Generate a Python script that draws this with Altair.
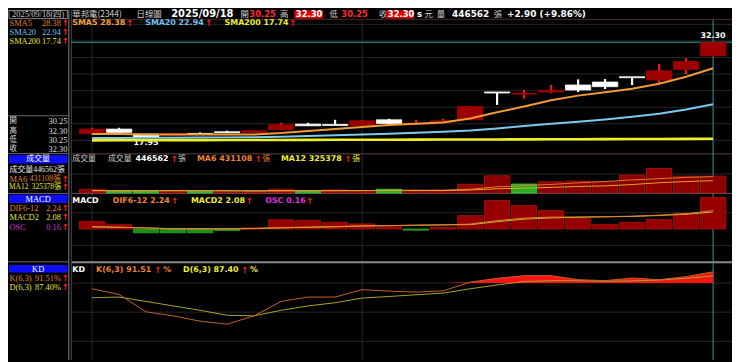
import altair as alt
import pandas as pd

# ---------------- values ----------------
IDX = list(range(24))
OPEN = [18.50, 19.20, 18.45, 18.30, 18.55, 18.80, 18.70, 19.10, 19.95, 19.90, 19.75, 20.60,
        19.95, 20.30, 20.60, 24.80, 24.45, 24.80, 25.85, 26.30, 27.10, 26.60, 28.20, 30.25]
HIGH = [19.40, 19.40, 18.50, 18.60, 18.70, 18.95, 19.00, 20.15, 20.15, 20.60, 20.55, 20.75,
        20.60, 20.75, 22.65, 24.80, 25.10, 25.85, 26.70, 26.75, 27.10, 29.00, 29.90, 32.30]
LOW = [18.35, 18.70, 17.95, 18.25, 18.40, 18.65, 18.65, 19.05, 19.65, 19.75, 19.70, 20.00,
       19.90, 20.25, 20.55, 22.85, 23.80, 24.60, 24.80, 25.25, 25.85, 26.10, 27.45, 30.25]
CLOSE = [19.20, 18.70, 18.00, 18.55, 18.40, 18.65, 18.95, 19.85, 19.70, 19.75, 20.45, 20.05,
         20.10, 20.45, 22.60, 24.65, 24.60, 25.05, 25.10, 25.60, 26.95, 28.00, 29.40, 32.30]
SMA5 = [18.45, 18.45, 18.40, 18.40, 18.40, 18.40, 18.40, 18.60, 18.90, 19.20, 19.50, 19.80,
        20.00, 20.20, 20.80, 21.75, 22.60, 23.55, 24.25, 24.75, 25.30, 26.05, 27.10, 28.38]
SMA20 = [17.85, 17.87, 17.88, 17.90, 17.92, 17.95, 17.98, 18.05, 18.15, 18.27, 18.38, 18.50,
         18.65, 18.80, 18.98, 19.30, 19.65, 20.00, 20.30, 20.65, 21.05, 21.50, 22.15, 22.94]
SMA200 = [17.50, 17.51, 17.52, 17.53, 17.53, 17.54, 17.55, 17.56, 17.57, 17.58, 17.59, 17.60,
          17.61, 17.62, 17.63, 17.64, 17.65, 17.66, 17.67, 17.68, 17.70, 17.71, 17.72, 17.74]
VOLUME = [97000, 53000, 53000, 60000, 45000, 34000, 34000, 97000, 53000, 79000, 60000, 97000,
          60000, 71000, 228000, 455000, 236000, 297000, 315000, 297000, 473000, 649000, 446000, 446562]
VOL_DIR = ["up", "down", "down", "up", "down", "up", "up", "up", "down", "up", "up", "down",
           "up", "up", "up", "up", "down", "up", "up", "up", "up", "up", "up", "up"]
VOL_MA6 = [58000, 56000, 55000, 57000, 60000, 57000, 47000, 54000, 54000, 57000, 60000, 70000,
           74000, 70000, 99000, 162000, 191000, 225000, 267000, 305000, 345000, 378000, 413000, 431108]
VOL_MA12 = [62000, 61000, 60000, 60000, 59000, 59000, 58000, 58000, 59000, 60000, 62000, 64000,
            60000, 62000, 77000, 109000, 125000, 147000, 171000, 187000, 222000, 270000, 302000, 325378]
DIF = [0.30, 0.22, 0.12, 0.02, 0.02, 0.02, 0.06, 0.18, 0.24, 0.30, 0.39, 0.42,
       0.46, 0.51, 0.60, 1.03, 1.33, 1.45, 1.48, 1.51, 1.57, 1.70, 1.88, 2.24]
MACD = [0.26, 0.20, 0.14, 0.04, 0.04, 0.03, 0.05, 0.13, 0.20, 0.27, 0.36, 0.41,
        0.47, 0.50, 0.53, 0.89, 1.21, 1.36, 1.43, 1.49, 1.54, 1.65, 1.80, 2.08]
OSC = [0.039, 0.022, -0.019, -0.019, -0.019, -0.008, 0.006, 0.047, 0.044, 0.034, 0.026, 0.011,
       -0.006, 0.009, 0.068, 0.144, 0.119, 0.093, 0.053, 0.023, 0.034, 0.048, 0.078, 0.16]
K = [74.0, 68.2, 50.3, 46.2, 40.7, 37.6, 46.2, 61.0, 65.5, 65.5, 73.2, 71.6,
     70.6, 71.9, 80.8, 84.8, 87.5, 87.5, 83.4, 82.4, 85.1, 83.4, 86.5, 91.51]
D = [64.8, 65.5, 61.0, 56.4, 51.9, 46.8, 46.2, 51.9, 56.4, 59.7, 64.5, 66.1,
     67.9, 69.6, 74.0, 78.0, 81.4, 82.4, 82.4, 81.8, 82.1, 83.1, 84.8, 87.40]

PRICE_GRID = [17.5, 20, 22.5, 25, 27.5, 30, 32.5, 35]
VOL_GRID = [500000]
MACD_GRID = [-2, 2]
KD_GRID = [20, 50, 80]
MONTH_LINES = [0, 10]
LAST_CLOSE = [32.30]
LAST_IDX = [23]

df = pd.DataFrame({
    "idx": IDX, "open": OPEN, "high": HIGH, "low": LOW, "close": CLOSE,
    "sma5": SMA5, "sma20": SMA20, "sma200": SMA200,
    "volume": VOLUME, "vdir": VOL_DIR, "vma6": VOL_MA6, "vma12": VOL_MA12,
    "dif": DIF, "macd": MACD, "osc": OSC, "k": K, "d": D,
})

# ---------------- scales (pixel ranges inside one 732x354 view) ----------------
OFF = 8  # page margin
XS = alt.Scale(domain=[-0.77, 23.70], range=[64, 732], nice=False, zero=False)
PRICE = alt.Scale(domain=[16, 36], range=[141.91, 7.91], nice=False, zero=False)
VOLS = alt.Scale(domain=[0, 1000000], range=[185, 146.93], nice=False, zero=False)
OSCS = alt.Scale(domain=[-0.16, 0.18], range=[253.5, 185.5], nice=False, zero=False)
LINES = alt.Scale(domain=[-3.8, 4.2], range=[252.89, 186.81], nice=False, zero=False)
KDS = alt.Scale(domain=[0, 100], range=[354.7, 256.4], nice=False, zero=False)

SANS = "DejaVu Sans"
CJK = "Noto Sans CJK TC"
SERIF = "Liberation Serif, Noto Sans CJK TC"
ONE = alt.Data(values=[{"k": 0}])


def xq(f):
    return alt.X(f"{f}:Q", scale=XS, axis=None)


def yq(f, sc):
    return alt.Y(f"{f}:Q", scale=sc, axis=None)


def label(s, x, y, color, size=8, weight="normal", font=SANS, align="left"):
    return alt.Chart(ONE).mark_text(
        align=align, baseline="middle", font=font, fontSize=size,
        fontWeight=weight, color=color
    ).encode(x=alt.value(x - OFF), y=alt.value(y - OFF), text=alt.value(s))


def arrow(x, y):
    return label("↑", x, y, "#ff2020", 8.5, "bold", SANS, "center")


def box(x1, y1, x2, y2, fill=None, stroke=None):
    kw = {}
    if fill:
        kw["fill"] = fill
    else:
        kw["fillOpacity"] = 0
    if stroke:
        kw["stroke"] = stroke
        kw["strokeWidth"] = 1
    return alt.Chart(ONE).mark_rect(**kw).encode(
        x=alt.value(x1 - OFF), x2=alt.value(x2 - OFF),
        y=alt.value(y1 - OFF), y2=alt.value(y2 - OFF))


def hline(x1, x2, y, color, sw=1.0):
    return alt.Chart(ONE).mark_rule(color=color, strokeWidth=sw).encode(
        x=alt.value(x1 - OFF), x2=alt.value(x2 - OFF), y=alt.value(y - OFF))


def vline(x, y1, y2, color, sw=1.0):
    return alt.Chart(ONE).mark_rule(color=color, strokeWidth=sw).encode(
        x=alt.value(x - OFF), y=alt.value(y1 - OFF), y2=alt.value(y2 - OFF))


GRID = "#262626"
layers = []


def hgrid(values, sc, color=GRID, sw=1.0):
    return alt.Chart(pd.DataFrame({"v": values})).mark_rule(color=color, strokeWidth=sw).encode(
        y=yq("v", sc), x=alt.value(64), x2=alt.value(732))


# ---------- grids (through scales) ----------
layers += [hgrid(PRICE_GRID, PRICE), hgrid(VOL_GRID, VOLS), hgrid(MACD_GRID, LINES), hgrid(KD_GRID, KDS)]
layers.append(alt.Chart(pd.DataFrame({"v": MONTH_LINES})).mark_rule(color="#2a2a2a").encode(
    x=xq("v"), y=alt.value(9.5), y2=alt.value(354)))

# ---------- frame ----------
layers += [
    hline(72, 740, 17.5, "#4a2630"),
    hline(72, 740, 153.5, "#5c4048"),
    hline(72, 740, 193.5, "#5a5a5a"),
    hline(72, 740, 263.2, "#8a8a8a", 2),
    vline(69.5, 8, 362, "#6e6e6e", 1.2),
    vline(72, 8, 362, "#4a4a4a"),
    hline(8, 69, 115, "#6a6a6a"),
    hline(8, 69, 153.3, "#6a6a6a"),
    hline(8, 69, 193.5, "#6a6a6a"),
    hline(8, 69, 262.7, "#6a6a6a"),
]

# last-price guides
layers.append(alt.Chart(pd.DataFrame({"v": LAST_CLOSE})).mark_rule(color="#2f9c9c").encode(
    y=yq("v", PRICE), x=alt.value(64), x2=alt.value(732)))
layers.append(alt.Chart(pd.DataFrame({"v": LAST_IDX})).mark_rule(color="#2f9c9c").encode(
    x=xq("v"), y=alt.value(9.5), y2=alt.value(354)))

# ---------- price panel ----------
base = alt.Chart(df).transform_calculate(
    kind="datum.close >= datum.open ? 'up' : 'down'",
    xl="datum.idx - 0.47", xr="datum.idx + 0.47",
    sgn="datum.osc >= 0 ? 'pos' : 'neg'",
)
layers.append(base.mark_rule(strokeWidth=2.2).encode(
    x=xq("idx"), y=yq("low", PRICE), y2="high:Q",
    color=alt.Color("kind:N", scale=alt.Scale(domain=["up", "down"], range=["#ff1414", "#ffffff"]), legend=None)))
layers.append(base.mark_rect(strokeWidth=0.8).encode(
    x=xq("xl"), x2="xr:Q", y=yq("open", PRICE), y2="close:Q",
    fill=alt.Fill("kind:N", scale=alt.Scale(domain=["up", "down"], range=["#9c0000", "#ffffff"]), legend=None),
    stroke=alt.Stroke("kind:N", scale=alt.Scale(domain=["up", "down"], range=["#a00000", "#ffffff"]), legend=None)))
# lowest-low label (partly under SMA200)
layers.append(base.transform_joinaggregate(mn="min(low)").transform_filter("datum.low == datum.mn").mark_text(
    dy=6, font=SANS, fontSize=8, fontWeight="bold", color="#ffffff").encode(
    x=xq("idx"), y=yq("low", PRICE), text=alt.Text("low:Q", format=".2f")))
layers.append(base.mark_line(color="#f0f020", strokeWidth=2.6).encode(x=xq("idx"), y=yq("sma200", PRICE)))
layers.append(base.mark_line(color="#7cc8ee", strokeWidth=2).encode(x=xq("idx"), y=yq("sma20", PRICE)))
layers.append(base.mark_line(color="#f09a34", strokeWidth=2).encode(x=xq("idx"), y=yq("sma5", PRICE)))
layers.append(base.transform_joinaggregate(mx="max(high)").transform_filter("datum.high == datum.mx").mark_text(
    dy=-6, font=SANS, fontSize=8, fontWeight="bold", color="#ffffff").encode(
    x=xq("idx"), y=yq("high", PRICE), text=alt.Text("high:Q", format=".2f")))

# ---------- volume panel ----------
layers.append(base.mark_rect(strokeWidth=0.8).encode(
    x=xq("xl"), x2="xr:Q", y=yq("volume", VOLS), y2=alt.datum(0),
    fill=alt.Fill("vdir:N", scale=alt.Scale(domain=["up", "down"], range=["#8e0000", "#22b022"]), legend=None),
    stroke=alt.Stroke("vdir:N", scale=alt.Scale(domain=["up", "down"], range=["#b01616", "#44d044"]), legend=None)))
layers.append(base.mark_line(color="#e07a2c", strokeWidth=1).encode(x=xq("idx"), y=yq("vma6", VOLS)))
layers.append(base.mark_line(color="#e0a828", strokeWidth=1).encode(x=xq("idx"), y=yq("vma12", VOLS)))

# ---------- MACD panel ----------
layers.append(base.mark_rect(strokeWidth=0.8).encode(
    x=xq("xl"), x2="xr:Q", y=yq("osc", OSCS), y2=alt.datum(0),
    fill=alt.Fill("sgn:N", scale=alt.Scale(domain=["pos", "neg"], range=["#960000", "#1c8e1c"]), legend=None),
    stroke=alt.Stroke("sgn:N", scale=alt.Scale(domain=["pos", "neg"], range=["#aa1212", "#2aa82a"]), legend=None)))
layers.append(base.mark_line(color="#b8b828", strokeWidth=1).encode(x=xq("idx"), y=yq("macd", LINES)))
layers.append(base.mark_line(color="#e88030", strokeWidth=1).encode(x=xq("idx"), y=yq("dif", LINES)))

# ---------- KD panel ----------
layers.append(base.transform_calculate(kf="max(datum.k, 80)").mark_area(color="#ff1212").encode(
    x=xq("idx"), y=yq("kf", KDS), y2=alt.datum(80)))
layers.append(base.mark_line(color="#a8a42c", strokeWidth=1).encode(x=xq("idx"), y=yq("d", KDS)))
layers.append(base.mark_line(color="#c0622c", strokeWidth=1).encode(x=xq("idx"), y=yq("k", KDS)))

# ---------- header ----------
HY = 12.5
WHITE = "#ffffff"
GRAYT = "#cfcfcf"
RED = "#ff2a2a"
layers += [
    box(9, 8.5, 68, 16.8, stroke="#8a8a8a"),
    label("2025/09/18(四)", 38.5, HY, "#c8c8c8", 8.5, font=SERIF, align="center"),
    label("華邦電(2344)", 73, HY, GRAYT, 8.5, font=CJK),
    label("日線圖", 138, HY, GRAYT, 8.5, font=CJK),
    label("2025/09/18", 173, HY, WHITE, 10, "bold"),
    label("開", 243, HY, GRAYT, 8.5, font=CJK),
    label("30.25", 252, HY, RED, 8.5, "bold"),
    label("高", 283, HY, GRAYT, 8.5, font=CJK),
    box(297.5, 8.3, 326.5, 16.8, fill="#e00000"),
    label("32.30", 299, HY, WHITE, 8.5, "bold"),
    label("低", 333, HY, GRAYT, 8.5, font=CJK),
    label("30.25", 345, HY, RED, 8.5, "bold"),
    label("收", 383, HY, GRAYT, 8.5, font=CJK),
    box(390.5, 8.3, 418.5, 16.8, fill="#e00000"),
    label("32.30", 392, HY, WHITE, 8.5, "bold"),
    label("s", 421.5, HY, WHITE, 8.5, "bold"),
    label("元", 429, HY, GRAYT, 8.5, font=CJK),
    label("量", 441.5, HY, GRAYT, 8.5, font=CJK),
    label("446562", 457, HY, WHITE, 9, "bold"),
    label("張", 499, HY, GRAYT, 8.5, font=CJK),
    label("+2.90 (+9.86%)", 512.5, HY, WHITE, 9, "bold"),
]

# ---------- sidebar ----------
SB_OR = "#e0802e"
SB_BL = "#6cc0e8"
SB_YE = "#e6e62e"
SB_MG = "#c83cc8"
SB_WH = "#dcdcdc"
BLUE = "#0d0dff"
LX = 9.5
RX = 61.5
AX = 66
for name, val, col, y in [("SMA5", "28.38", SB_OR, 21), ("SMA20", "22.94", SB_BL, 30),
                          ("SMA200", "17.74", SB_YE, 39)]:
    layers += [label(name, LX, y, col, 8.5, font=SERIF),
               label(val, RX, y, col, 8.5, font=SERIF, align="right"), arrow(AX, y)]
for name, val, y in [("開", "30.25", 120.8), ("高", "32.30", 130), ("低", "30.25", 139.4), ("收", "32.30", 148.6)]:
    layers += [label(name, LX, y, SB_WH, 7.5, font=SERIF),
               label(val, 68, y, SB_WH, 8.5, font=SERIF, align="right")]
layers += [
    box(9, 155, 68, 163.3, fill=BLUE),
    label("成交量", 38.5, 159.2, WHITE, 8, font=CJK, align="center"),
    label("成交量446562張", LX, 169.5, "#e8e8e8", 8, font=SERIF),
    label("MA6", LX, 178.5, SB_OR, 8.5, font=SERIF),
    label("431108張", RX, 178.5, SB_OR, 8, font=SERIF, align="right"), arrow(AX, 178.5),
    label("MA12", 9, 187.5, SB_YE, 7.5, font=SERIF),
    label("325378張", 62, 187.5, SB_YE, 7.5, font=SERIF, align="right"), arrow(AX, 187.5),
    box(9, 194.8, 68, 203.3, fill=BLUE),
    label("MACD", 38.5, 199.1, WHITE, 8.5, font=SERIF, align="center"),
    box(9, 266, 68, 273.5, fill=BLUE),
    label("KD", 38.5, 269.8, WHITE, 8.5, font=SERIF, align="center"),
]
for name, val, col, y in [("DIF6-12", "2.24", SB_OR, 208.5), ("MACD2", "2.08", SB_YE, 217.7),
                          ("OSC", "0.16", SB_MG, 227), ("K(6,3)", "91.51%", SB_OR, 279.5),
                          ("D(6,3)", "87.40%", SB_YE, 288.5)]:
    layers += [label(name, LX, y, col, 8.5, font=SERIF),
               label(val, RX, y, col, 8.5, font=SERIF, align="right"), arrow(AX, y)]

# ---------- panel legends ----------
OR = "#ee8436"
YE = "#eeee30"
L1 = 21.5
layers += [
    label("SMA5 28.38", 73, L1, "#f4a43c", 8, "bold"), arrow(131, L1),
    label("SMA20 22.94", 146.7, L1, "#72c6ee", 8, "bold"), arrow(211, L1),
    label("SMA200 17.74", 227, L1, "#f0f028", 8, "bold"), arrow(296, L1),
]
L2 = 159
layers += [
    label("成交量", 73, L2, "#c8c8c8", 8, font=CJK),
    label("成交量", 109, L2, "#c8c8c8", 8, font=CJK),
    label("446562", 137, L2, WHITE, 8, "bold"), arrow(176, L2),
    label("張", 180, L2, "#c8c8c8", 8, font=CJK),
    label("MA6 431108", 199, L2, OR, 8, "bold"), arrow(261, L2),
    label("張", 265, L2, OR, 8, font=CJK),
    label("MA12 325378", 284, L2, YE, 8, "bold"), arrow(351.7, L2),
    label("張", 356, L2, YE, 8, font=CJK),
]
L3 = 201
layers += [
    label("MACD", 73, L3, WHITE, 8, "bold"),
    label("DIF6-12 2.24", 114, L3, OR, 8, "bold"), arrow(176.7, L3),
    label("MACD2 2.08", 193, L3, YE, 8, "bold"), arrow(252, L3),
    label("OSC 0.16", 268, L3, "#e030e0", 8, "bold"), arrow(313, L3),
]
L4 = 271
layers += [
    label("KD", 73, L4, WHITE, 8, "bold"),
    label("K(6,3) 91.51", 97, L4, OR, 8, "bold"), arrow(159.3, L4),
    label("%", 165, L4, OR, 8, "bold"),
    label("D(6,3) 87.40", 185, L4, YE, 8, "bold"), arrow(247.3, L4),
    label("%", 252.7, L4, YE, 8, "bold"),
]

chart = alt.layer(*layers).resolve_scale(
    y="independent", color="independent", fill="independent", stroke="independent"
).properties(
    width=732, height=354, padding=0, background="#000000",
    autosize=alt.AutoSizeParams(type="none"),
).configure_view(strokeWidth=0, fill="#000000")

chart.save("out.html", embed_options={"renderer": "svg", "actions": False})
